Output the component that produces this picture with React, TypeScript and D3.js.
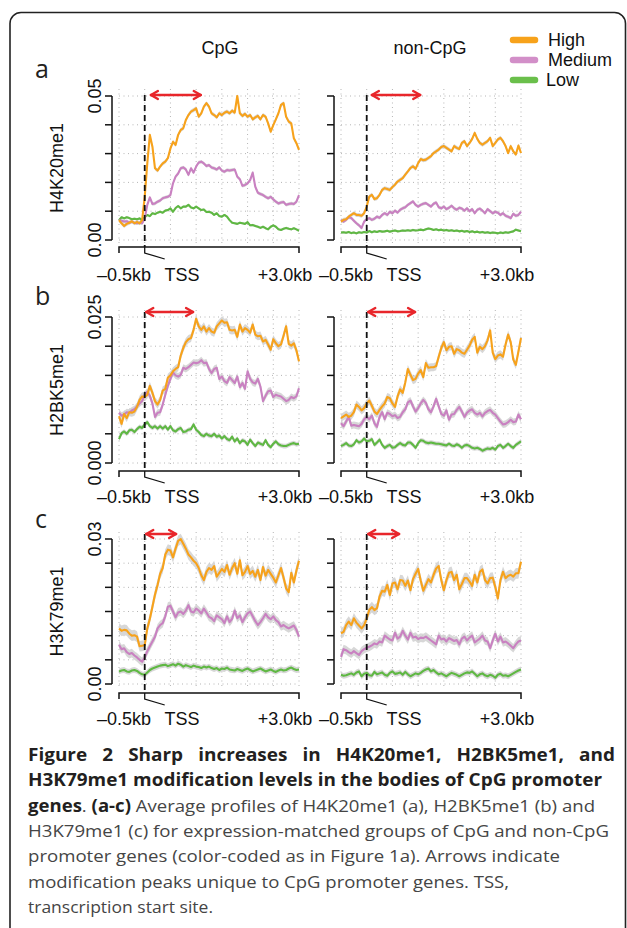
import React from 'react';
import * as d3 from 'd3';

// distance from TSS in kb (bin centres)
const binsKb = [-0.5, -0.45, -0.4, -0.35, -0.3, -0.25, -0.2, -0.15, -0.1, -0.05, 0, 0.05, 0.1, 0.15, 0.2, 0.25, 0.3, 0.35, 0.4, 0.45, 0.5, 0.55, 0.6, 0.65, 0.7, 0.75, 0.8, 0.85, 0.9, 0.95, 1, 1.05, 1.1, 1.15, 1.2, 1.25, 1.3, 1.35, 1.4, 1.45, 1.5, 1.55, 1.6, 1.65, 1.7, 1.75, 1.8, 1.85, 1.9, 1.95, 2, 2.05, 2.1, 2.15, 2.2, 2.25, 2.3, 2.35, 2.4, 2.45, 2.5, 2.55, 2.6, 2.65, 2.7, 2.75, 2.8, 2.85, 2.9, 2.95, 3];
const gridKb = [-0.5, 0, 0.5, 1, 1.5, 2, 2.5, 3];

const groups = ['High', 'Medium', 'Low'];
const groupColors = ['#f7a21b', '#c981c1', '#5fb843'];
const legendColors = ['#f7a21b', '#d28fc8', '#6abf4b'];

// H4K20me1
const h4k20CpgHigh = [.0069, .0058, .0049, .0056, .0060, .0065, .0058, .0063, .0058, .0069, .0150, .0266, .0365, .0324, .0249, .0241, .0255, .0266, .0272, .0284, .0318, .0341, .0330, .0365, .0382, .0388, .0417, .0434, .0446, .0451, .0457, .0428, .0440, .0463, .0475, .0463, .0440, .0434, .0426, .0440, .0434, .0442, .0446, .0440, .0449, .0442, .0500, .0440, .0431, .0438, .0428, .0434, .0419, .0426, .0431, .0419, .0434, .0428, .0405, .0376, .0399, .0419, .0440, .0469, .0475, .0428, .0411, .0405, .0353, .0336, .0313];
const h4k20CpgMed = [.0069, .0067, .0064, .0065, .0060, .0063, .0060, .0058, .0060, .0058, .0075, .0122, .0148, .0125, .0127, .0133, .0137, .0145, .0148, .0150, .0156, .0197, .0220, .0231, .0249, .0252, .0245, .0226, .0249, .0234, .0255, .0269, .0272, .0266, .0257, .0260, .0252, .0249, .0245, .0252, .0241, .0237, .0243, .0241, .0243, .0245, .0220, .0211, .0188, .0191, .0197, .0208, .0234, .0185, .0164, .0160, .0156, .0150, .0145, .0150, .0141, .0133, .0127, .0130, .0132, .0122, .0125, .0127, .0125, .0133, .0156];
const h4k20CpgLow = [.0069, .0079, .0075, .0079, .0076, .0072, .0074, .0072, .0075, .0069, .0079, .0087, .0083, .0093, .0090, .0095, .0098, .0095, .0102, .0104, .0110, .0098, .0111, .0118, .0110, .0116, .0116, .0122, .0113, .0110, .0116, .0110, .0104, .0106, .0097, .0098, .0095, .0087, .0093, .0083, .0081, .0087, .0081, .0069, .0060, .0058, .0056, .0060, .0058, .0056, .0062, .0051, .0052, .0049, .0046, .0042, .0046, .0041, .0037, .0046, .0051, .0046, .0037, .0035, .0039, .0042, .0039, .0037, .0041, .0037, .0032];
const h4k20NonHigh = [.0064, .0070, .0072, .0081, .0087, .0093, .0087, .0087, .0084, .0093, .0116, .0151, .0157, .0142, .0145, .0157, .0174, .0180, .0177, .0174, .0184, .0192, .0203, .0209, .0215, .0227, .0238, .0250, .0256, .0247, .0267, .0281, .0277, .0279, .0285, .0291, .0302, .0308, .0314, .0323, .0326, .0320, .0314, .0308, .0326, .0320, .0316, .0337, .0343, .0326, .0337, .0351, .0372, .0351, .0337, .0331, .0337, .0343, .0355, .0326, .0337, .0349, .0355, .0343, .0326, .0302, .0326, .0308, .0297, .0328, .0302];
const h4k20NonMed = [.0070, .0064, .0070, .0079, .0076, .0067, .0058, .0051, .0042, .0064, .0072, .0076, .0070, .0074, .0081, .0077, .0087, .0093, .0087, .0098, .0093, .0102, .0095, .0105, .0110, .0114, .0122, .0128, .0134, .0122, .0116, .0122, .0126, .0128, .0122, .0116, .0126, .0130, .0114, .0110, .0116, .0107, .0112, .0119, .0110, .0105, .0112, .0109, .0102, .0110, .0100, .0107, .0093, .0105, .0109, .0102, .0093, .0107, .0100, .0093, .0098, .0095, .0087, .0093, .0084, .0081, .0076, .0091, .0084, .0087, .0098];
const h4k20NonLow = [.0026, .0027, .0025, .0028, .0024, .0026, .0023, .0027, .0025, .0028, .0026, .0031, .0027, .0030, .0028, .0031, .0029, .0030, .0032, .0029, .0031, .0033, .0030, .0031, .0033, .0032, .0034, .0032, .0035, .0033, .0034, .0036, .0034, .0037, .0040, .0038, .0035, .0037, .0034, .0036, .0033, .0035, .0032, .0034, .0031, .0033, .0030, .0032, .0029, .0031, .0028, .0030, .0027, .0029, .0026, .0028, .0025, .0027, .0024, .0026, .0025, .0023, .0026, .0024, .0027, .0025, .0028, .0030, .0036, .0033, .0030];

// H2BK5me1
const h2bk5CpgHigh = [.0080, .0067, .0084, .0077, .0087, .0086, .0088, .0096, .0108, .0114, .0113, .0117, .0132, .0120, .0106, .0100, .0108, .0124, .0127, .0146, .0150, .0157, .0161, .0164, .0184, .0197, .0207, .0212, .0214, .0228, .0247, .0234, .0228, .0234, .0225, .0231, .0225, .0223, .0234, .0239, .0244, .0240, .0241, .0228, .0227, .0228, .0216, .0237, .0225, .0231, .0228, .0223, .0237, .0220, .0217, .0218, .0208, .0211, .0203, .0194, .0212, .0205, .0200, .0203, .0218, .0234, .0204, .0201, .0205, .0193, .0174];
const h2bk5CpgMed = [.0086, .0081, .0083, .0087, .0086, .0090, .0092, .0097, .0102, .0106, .0117, .0122, .0115, .0102, .0079, .0086, .0087, .0100, .0117, .0132, .0144, .0155, .0150, .0148, .0151, .0163, .0161, .0164, .0168, .0172, .0171, .0172, .0176, .0171, .0172, .0161, .0154, .0161, .0163, .0144, .0148, .0140, .0137, .0147, .0142, .0137, .0148, .0130, .0137, .0127, .0157, .0144, .0138, .0136, .0144, .0131, .0106, .0115, .0123, .0124, .0113, .0117, .0115, .0114, .0110, .0106, .0108, .0113, .0111, .0114, .0128];
const h2bk5CpgLow = [.0041, .0051, .0054, .0050, .0056, .0057, .0053, .0058, .0062, .0060, .0066, .0070, .0063, .0060, .0063, .0059, .0063, .0059, .0063, .0057, .0063, .0056, .0054, .0058, .0060, .0053, .0054, .0057, .0058, .0066, .0057, .0053, .0048, .0046, .0050, .0047, .0046, .0050, .0045, .0047, .0042, .0046, .0041, .0039, .0045, .0037, .0042, .0034, .0039, .0037, .0031, .0040, .0034, .0029, .0035, .0033, .0031, .0039, .0031, .0027, .0033, .0037, .0032, .0030, .0029, .0029, .0031, .0033, .0034, .0032, .0033];
const h2bk5NonHigh = [.0077, .0080, .0083, .0079, .0081, .0087, .0100, .0096, .0090, .0094, .0102, .0107, .0098, .0088, .0084, .0091, .0097, .0102, .0113, .0111, .0102, .0096, .0114, .0126, .0120, .0138, .0161, .0151, .0142, .0144, .0153, .0159, .0147, .0171, .0163, .0164, .0164, .0166, .0182, .0197, .0207, .0193, .0199, .0200, .0187, .0195, .0193, .0189, .0187, .0194, .0201, .0211, .0216, .0189, .0199, .0195, .0200, .0210, .0227, .0189, .0178, .0184, .0186, .0182, .0203, .0220, .0207, .0177, .0168, .0191, .0214];
const h2bk5NonMed = [.0068, .0063, .0071, .0079, .0064, .0065, .0064, .0063, .0067, .0075, .0079, .0075, .0081, .0068, .0062, .0079, .0087, .0075, .0086, .0084, .0080, .0082, .0077, .0079, .0087, .0092, .0104, .0107, .0097, .0088, .0094, .0102, .0108, .0103, .0092, .0087, .0097, .0110, .0097, .0084, .0081, .0090, .0074, .0083, .0084, .0091, .0096, .0088, .0079, .0086, .0090, .0092, .0086, .0083, .0086, .0080, .0086, .0089, .0091, .0086, .0083, .0077, .0071, .0066, .0067, .0070, .0074, .0070, .0071, .0083, .0075];
const h2bk5NonLow = [.0029, .0031, .0034, .0030, .0029, .0032, .0039, .0035, .0037, .0042, .0037, .0038, .0041, .0031, .0035, .0040, .0031, .0026, .0029, .0031, .0026, .0027, .0031, .0034, .0031, .0030, .0035, .0035, .0031, .0026, .0034, .0039, .0038, .0035, .0034, .0035, .0034, .0033, .0033, .0032, .0031, .0030, .0033, .0030, .0029, .0032, .0030, .0026, .0030, .0031, .0029, .0026, .0025, .0026, .0024, .0021, .0023, .0025, .0024, .0026, .0023, .0029, .0031, .0026, .0029, .0033, .0029, .0026, .0031, .0034, .0037];

// H3K79me1
const h3k79CpgHigh = [.0115, .0110, .0112, .0111, .0104, .0100, .0101, .0098, .0078, .0079, .0080, .0115, .0135, .0160, .0185, .0205, .0228, .0240, .0268, .0278, .0276, .0262, .0280, .0296, .0300, .0290, .0280, .0268, .0262, .0255, .0250, .0240, .0225, .0215, .0232, .0240, .0236, .0244, .0222, .0230, .0238, .0232, .0246, .0226, .0240, .0250, .0228, .0256, .0225, .0232, .0244, .0228, .0234, .0222, .0236, .0215, .0242, .0224, .0236, .0228, .0220, .0210, .0225, .0240, .0220, .0198, .0190, .0230, .0210, .0235, .0255];
const h3k79CpgMed = [.0081, .0072, .0074, .0066, .0062, .0064, .0059, .0055, .0050, .0046, .0055, .0068, .0078, .0088, .0098, .0115, .0122, .0126, .0140, .0160, .0162, .0150, .0138, .0148, .0150, .0145, .0152, .0163, .0150, .0148, .0156, .0152, .0146, .0156, .0148, .0139, .0136, .0130, .0142, .0138, .0134, .0126, .0140, .0128, .0135, .0152, .0136, .0142, .0128, .0138, .0146, .0150, .0140, .0130, .0122, .0128, .0136, .0145, .0138, .0134, .0140, .0132, .0128, .0119, .0122, .0118, .0115, .0118, .0121, .0112, .0098];
const h3k79CpgLow = [.0026, .0028, .0029, .0026, .0025, .0028, .0029, .0027, .0023, .0020, .0019, .0024, .0029, .0032, .0034, .0036, .0038, .0039, .0040, .0037, .0039, .0041, .0038, .0042, .0040, .0036, .0039, .0037, .0035, .0038, .0036, .0035, .0033, .0036, .0034, .0036, .0033, .0031, .0033, .0029, .0032, .0031, .0034, .0030, .0029, .0028, .0031, .0029, .0027, .0030, .0032, .0029, .0026, .0028, .0030, .0032, .0029, .0026, .0028, .0030, .0027, .0025, .0028, .0030, .0028, .0029, .0032, .0034, .0031, .0029, .0030];
const h3k79NonHigh = [.0105, .0108, .0122, .0129, .0122, .0136, .0127, .0121, .0115, .0122, .0136, .0153, .0159, .0153, .0157, .0181, .0193, .0191, .0205, .0184, .0208, .0210, .0196, .0215, .0214, .0203, .0214, .0194, .0217, .0228, .0238, .0214, .0193, .0205, .0217, .0210, .0226, .0239, .0244, .0215, .0194, .0215, .0230, .0232, .0215, .0226, .0196, .0207, .0219, .0219, .0212, .0203, .0226, .0210, .0232, .0237, .0215, .0208, .0219, .0220, .0201, .0177, .0215, .0232, .0219, .0224, .0226, .0222, .0229, .0229, .0253];
const h3k79NonMed = [.0056, .0072, .0070, .0066, .0063, .0068, .0064, .0060, .0068, .0072, .0075, .0077, .0080, .0084, .0082, .0088, .0086, .0100, .0096, .0092, .0090, .0106, .0094, .0098, .0110, .0100, .0092, .0106, .0096, .0098, .0093, .0096, .0095, .0098, .0094, .0090, .0086, .0082, .0100, .0092, .0094, .0088, .0095, .0092, .0089, .0091, .0082, .0094, .0098, .0090, .0096, .0100, .0086, .0090, .0094, .0100, .0090, .0088, .0074, .0090, .0104, .0088, .0098, .0086, .0088, .0084, .0079, .0074, .0082, .0088, .0090];
const h3k79NonLow = [.0019, .0017, .0018, .0020, .0022, .0019, .0024, .0026, .0016, .0021, .0023, .0018, .0017, .0025, .0020, .0022, .0024, .0019, .0017, .0023, .0026, .0021, .0022, .0024, .0019, .0025, .0020, .0016, .0019, .0022, .0020, .0023, .0027, .0030, .0032, .0026, .0029, .0024, .0020, .0022, .0019, .0016, .0020, .0023, .0021, .0019, .0016, .0019, .0022, .0024, .0023, .0026, .0021, .0016, .0020, .0022, .0018, .0016, .0019, .0017, .0013, .0019, .0021, .0017, .0018, .0016, .0019, .0022, .0025, .0028, .0030];

// y ticks and half-width of the grey confidence band (High, Medium, Low)
const ticksA = [0, 0.01, 0.02, 0.03, 0.04, 0.05];
const ticksB = [0, 0.005, 0.01, 0.015, 0.02, 0.025];
const ticksC = [0, 0.005, 0.01, 0.015, 0.02, 0.025, 0.03];
const bandA = [0.0007, 0.0006, 0.0004];
const bandB = [0.0007, 0.0006, 0.0004];
const bandC = [0.0011, 0.0009, 0.0006];

// red arrows: kb range of CpG-specific peak
const arrowsCpg = [[0.12, 1.09], [0.03, 0.94], [0.03, 0.61]];
const arrowsNon = [[0.1, 1.04], [0.03, 0.94], [0.03, 0.63]];

const rows = [
  { letter: 'a', mark: 'H4K20me1', ticks: ticksA, tickLabels: ['0.00', '0.05'], band: bandA,
    cpg: [h4k20CpgHigh, h4k20CpgMed, h4k20CpgLow], non: [h4k20NonHigh, h4k20NonMed, h4k20NonLow] },
  { letter: 'b', mark: 'H2BK5me1', ticks: ticksB, tickLabels: ['0.000', '0.025'], band: bandB,
    cpg: [h2bk5CpgHigh, h2bk5CpgMed, h2bk5CpgLow], non: [h2bk5NonHigh, h2bk5NonMed, h2bk5NonLow] },
  { letter: 'c', mark: 'H3K79me1', ticks: ticksC, tickLabels: ['0.00', '0.03'], band: bandC,
    cpg: [h3k79CpgHigh, h3k79CpgMed, h3k79CpgLow], non: [h3k79NonHigh, h3k79NonMed, h3k79NonLow] },
];

// pixel layout of each row
const rowLayout = [
  { top: 96, bottom: 240, axisY: 247, arrowY: 95, letterY: 78, kbLabelY: 281 },
  { top: 317, bottom: 463, axisY: 471, arrowY: 312, letterY: 305, kbLabelY: 503 },
  { top: 539, bottom: 684, axisY: 693, arrowY: 534, letterY: 528, kbLabelY: 725 },
];
const panelLefts = [119, 341];
const panelWidth = 180;

const chartFont = '"Liberation Sans", Arimo, Arial, sans-serif';
const captionFont = '"Open Sans", sans-serif';

let measureCtx: CanvasRenderingContext2D | null = null;
const textWidth = (s: string, font: string) => {
  if (!measureCtx) measureCtx = document.createElement('canvas').getContext('2d');
  measureCtx!.font = font;
  return measureCtx!.measureText(s).width;
};

const Panel = ({ row, layout, left, series, arrow, first }: any) => {
  const x = d3.scaleLinear().domain([-0.5, 3]).range([left, left + panelWidth]);
  const yMax = row.ticks[row.ticks.length - 1];
  const y = d3.scaleLinear().domain([0, yMax]).range([layout.bottom, layout.top]);
  const axisX = left - 7;

  const line = d3.line<number>().x((d, i) => x(binsKb[i])).y(d => y(d));
  const bandArea = (w: number) => d3.area<number>()
    .x((d, i) => x(binsKb[i]))
    .y0(d => y(d - w))
    .y1(d => y(d + w));

  const tssX = x(0);
  const ax0 = x(arrow[0]);
  const ax1 = x(arrow[1]);
  const ay = layout.arrowY;

  return (
    <g>
      {/* dotted grid */}
      {gridKb.map(k => (
        <line key={'gv' + k} x1={x(k)} x2={x(k)} y1={layout.top - 7} y2={layout.bottom + 4}
          stroke="#b5b5b5" strokeWidth={1} strokeDasharray="1 3.5" />
      ))}
      {row.ticks.map((t: number) => (
        <line key={'gh' + t} x1={left} x2={left + panelWidth} y1={y(t)} y2={y(t)}
          stroke="#b5b5b5" strokeWidth={1} strokeDasharray="1 3.5" />
      ))}

      {/* confidence bands */}
      {series.map((s: number[], i: number) => (
        <path key={'band' + i} d={bandArea(row.band[i])(s) || ''} fill="#d0d0d0" opacity={0.85} />
      ))}
      {/* profiles, low drawn first */}
      {[2, 1, 0].map(i => (
        <path key={'ln' + i} d={line(series[i]) || ''} fill="none" stroke={groupColors[i]}
          strokeWidth={2.1} strokeLinejoin="round" />
      ))}

      {/* y axis */}
      <line x1={axisX} x2={axisX} y1={y(0)} y2={y(yMax)} stroke="#111" strokeWidth={1.5} />
      {row.ticks.map((t: number) => (
        <line key={'yt' + t} x1={axisX - 7} x2={axisX} y1={y(t)} y2={y(t)} stroke="#111" strokeWidth={1.5} />
      ))}
      {first && (
        <g fontFamily={chartFont} fontSize={18} fill="#111">
          <text transform={`translate(101,${y(0)}) rotate(-90)`} textAnchor="middle">{row.tickLabels[0]}</text>
          <text transform={`translate(101,${y(yMax)}) rotate(-90)`} textAnchor="middle">{row.tickLabels[1]}</text>
          <text transform={`translate(63,${(y(0) + y(yMax)) / 2}) rotate(-90)`} textAnchor="middle">{row.mark}</text>
        </g>
      )}

      {/* x axis */}
      <path d={`M${x(-0.5)},${layout.axisY + 6}V${layout.axisY}H${x(3)}V${layout.axisY + 6}`}
        fill="none" stroke="#111" strokeWidth={1.5} />
      <path d={`M${tssX},${layout.axisY}v6l20,6`} fill="none" stroke="#111" strokeWidth={1.3} />
      <g fontFamily={chartFont} fontSize={18} fill="#111" textAnchor="middle">
        <text x={left + 5} y={layout.kbLabelY}>–0.5kb</text>
        <text x={left + 63} y={layout.kbLabelY}>TSS</text>
        <text x={left + 166} y={layout.kbLabelY}>+3.0kb</text>
      </g>

      {/* TSS */}
      <line x1={tssX} x2={tssX} y1={ay} y2={layout.axisY} stroke="#111" strokeWidth={1.8} strokeDasharray="6 4" />

      {/* peak arrow */}
      <g stroke="#e8262b" strokeWidth={2.4} fill="none" strokeLinecap="round" strokeLinejoin="round">
        <line x1={ax0} x2={ax1} y1={ay} y2={ay} />
        <polyline points={`${ax0 + 7},${ay - 4} ${ax0},${ay} ${ax0 + 7},${ay + 4}`} />
        <polyline points={`${ax1 - 7},${ay - 4} ${ax1},${ay} ${ax1 - 7},${ay + 4}`} />
      </g>
    </g>
  );
};

type Seg = { t: string; b?: boolean };

const captionLines: { segs: Seg[]; right: number; justify?: boolean }[] = [
  { segs: [{ t: 'Figure 2 Sharp increases in H4K20me1, H2BK5me1, and', b: true }], right: 615, justify: true },
  { segs: [{ t: 'H3K79me1 modification levels in the bodies of CpG promoter', b: true }], right: 602 },
  { segs: [{ t: 'genes', b: true }, { t: '. ' }, { t: '(a-c)', b: true }, { t: ' Average profiles of H4K20me1 (a), H2BK5me1 (b) and' }], right: 595 },
  { segs: [{ t: 'H3K79me1 (c) for expression-matched groups of CpG and non-CpG' }], right: 609 },
  { segs: [{ t: 'promoter genes (color-coded as in Figure 1a). Arrows indicate' }], right: 560 },
  { segs: [{ t: 'modification peaks unique to CpG promoter genes. TSS,' }], right: 509 },
  { segs: [{ t: 'transcription start site.' }], right: 213 },
];

const Caption = () => {
  const left = 28;
  const fs = 17;
  const boldFont = `bold ${fs}px "Open Sans"`;
  // horizontal stretch that the bold face gets on the naturally spaced second line
  const stretch = (captionLines[1].right - left) / textWidth(captionLines[1].segs[0].t, boldFont);
  return (
    <g fontFamily={captionFont} fontSize={fs}>
      {captionLines.map((ln, i) => {
        const yb = 761 + i * 25.3;
        if (ln.justify) {
          const words = ln.segs[0].t.split(' ');
          const widths = words.map(w => textWidth(w, boldFont) * stretch);
          const gap = (ln.right - left - d3.sum(widths)) / (words.length - 1);
          let cx = left;
          return (
            <g key={i} fontWeight="bold" fill="#231f20">
              {words.map((w, j) => {
                const el = (
                  <text key={j} x={cx} y={yb} textLength={widths[j]} lengthAdjust="spacingAndGlyphs">{w}</text>
                );
                cx += widths[j] + gap;
                return el;
              })}
            </g>
          );
        }
        return (
          <text key={i} x={left} y={yb} textLength={ln.right - left} lengthAdjust="spacingAndGlyphs"
            style={{ whiteSpace: 'pre' }}>
            {ln.segs.map((s, j) => (
              <tspan key={j} fontWeight={s.b ? 'bold' : 'normal'} fill={s.b ? '#231f20' : '#454545'}>{s.t}</tspan>
            ))}
          </text>
        );
      })}
    </g>
  );
};

const App = () => {
  const W = 627;
  const H = 928;
  return (
    <div style={{ position: 'absolute', left: 0, top: 0, width: W, height: H, background: '#fff' }}>
      <svg width={W} height={H} viewBox={`0 0 ${W} ${H}`}>
        <rect x={0} y={0} width={W} height={H} fill="#fff" />
        <rect x={10} y={12.5} width={615.5} height={940} rx={11} fill="none" stroke="#222" strokeWidth={1.6} />

        {/* column titles */}
        <g fontFamily={chartFont} fontSize={18} fill="#111" textAnchor="middle">
          <text x={220} y={54}>CpG</text>
          <text x={430} y={54}>non-CpG</text>
        </g>

        {/* legend */}
        <g fontFamily={chartFont} fontSize={18} fill="#111">
          {groups.map((g, i) => (
            <g key={g}>
              <line x1={513} x2={535} y1={40 + i * 20} y2={40 + i * 20} stroke={legendColors[i]}
                strokeWidth={6.5} strokeLinecap="round" />
              <text x={i === 2 ? 546 : 548} y={46 + i * 20}>{g}</text>
            </g>
          ))}
        </g>

        {rows.map((row, r) => (
          <g key={row.letter}>
            <text x={35} y={rowLayout[r].letterY} fontFamily={captionFont} fontSize={25} fill="#231f20">{row.letter}</text>
            <Panel row={row} layout={rowLayout[r]} left={panelLefts[0]} series={row.cpg} arrow={arrowsCpg[r]} first />
            <Panel row={row} layout={rowLayout[r]} left={panelLefts[1]} series={row.non} arrow={arrowsNon[r]} first={false} />
          </g>
        ))}

        <Caption />
      </svg>
    </div>
  );
};

export default App;
